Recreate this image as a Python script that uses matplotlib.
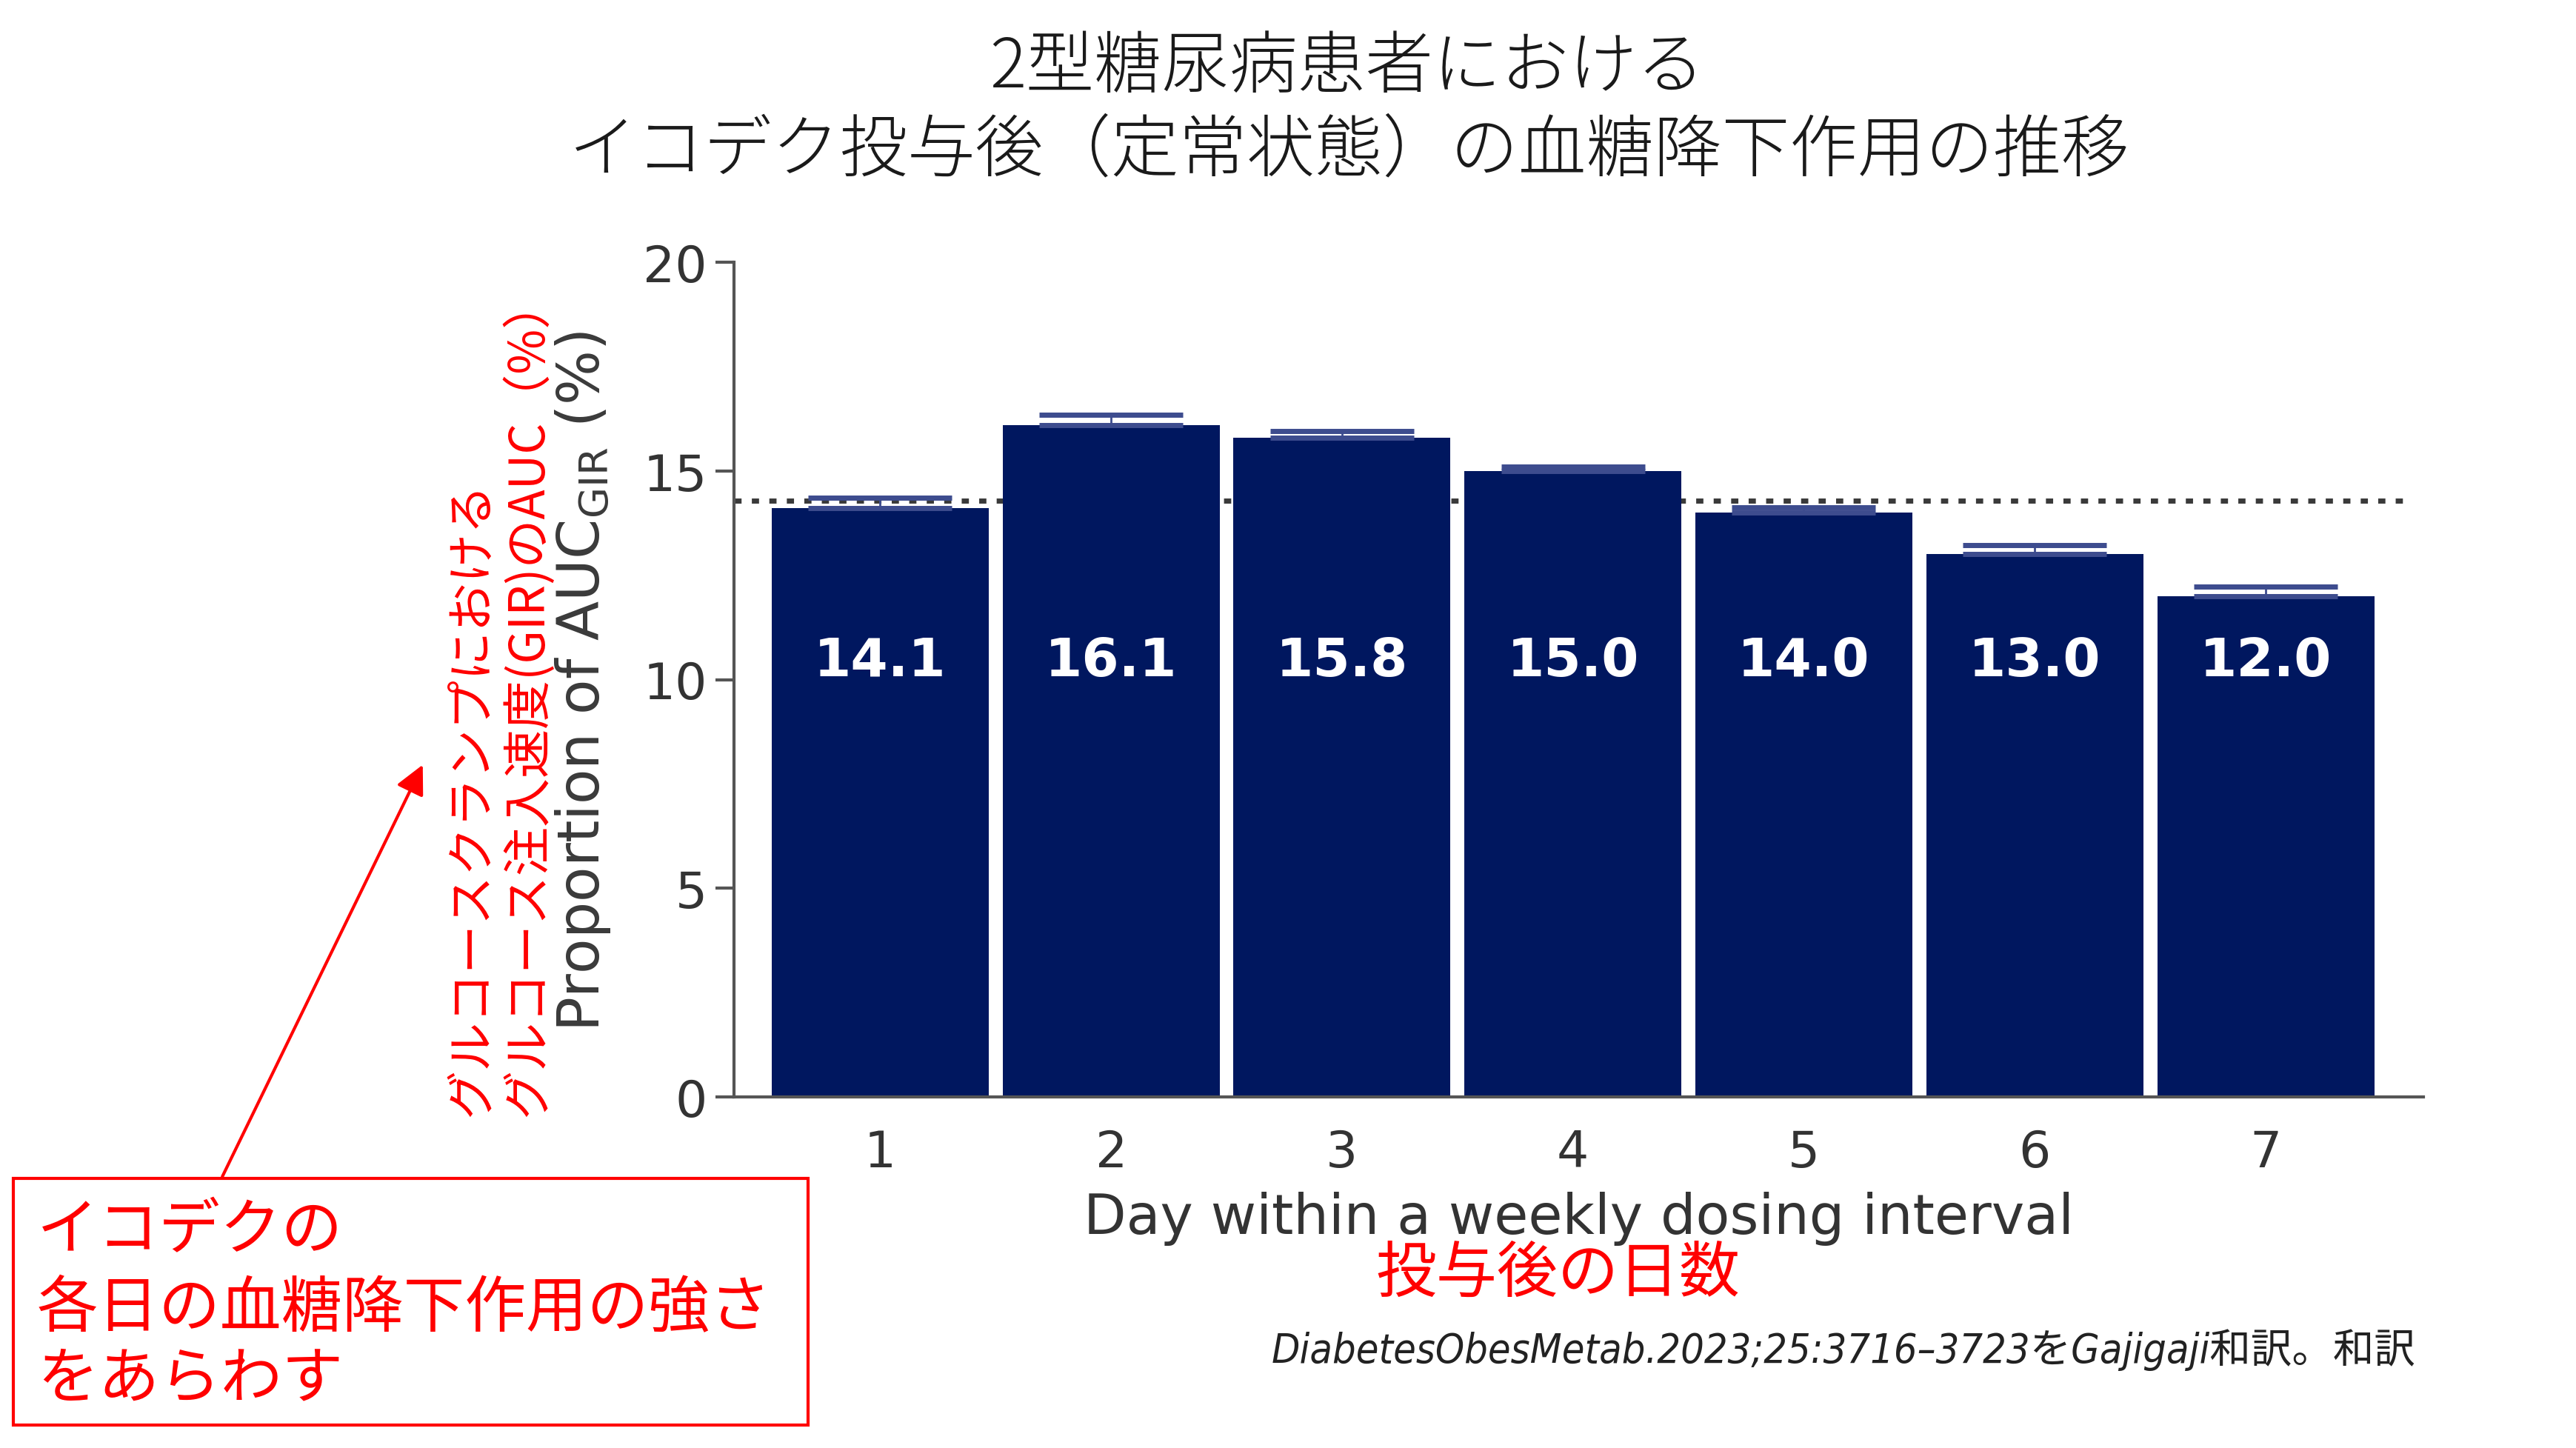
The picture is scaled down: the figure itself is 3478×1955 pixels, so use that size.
# Bar chart: proportion of AUC_GIR per day after weekly icodec dosing (Japanese annotations)

import matplotlib
matplotlib.use("Agg")
import matplotlib.pyplot as plt
from matplotlib.patches import Rectangle, FancyArrowPatch

plt.rcParams['font.family'] = ['DejaVu Sans', 'Noto Sans CJK JP']

# Data
days = [1, 2, 3, 4, 5, 6, 7]
day_labels = ['1', '2', '3', '4', '5', '6', '7']
auc_pct = [14.1, 16.1, 15.8, 15.0, 14.0, 13.0, 12.0]
auc_err = [0.25, 0.25, 0.15, 0.1, 0.12, 0.22, 0.22]
mean_pct = 100 / 7
y_ticks = [0, 5, 10, 15, 20]

title_lines = ['2型糖尿病患者における', 'イコデク投与後（定常状態）の血糖降下作用の推移']
jp_ylabel = ['グルコースクランプにおける', 'グルコース注入速度(GIR)のAUC（%）']
jp_xlabel = '投与後の日数'
box_lines = ['イコデクの', '各日の血糖降下作用の強さ', 'をあらわす']
citation = 'DiabetesObesMetab.2023;25:3716–3723をGajigaji和訳。和訳'

W, H = 3478, 1956
navy = '#00175F'
red = '#FF0000'
jp = ['Noto Sans CJK JP', 'DejaVu Sans']

fig = plt.figure(figsize=(W / 100, H / 100), dpi=100)
fig.patch.set_facecolor('white')


def fx(px):
    return px / W


def fy(py):
    return 1 - py / H


# axes placed by pixel box of the original
ax_l, ax_r, ax_t, ax_b = 991, 3272, 355, 1482
ax = fig.add_axes([fx(ax_l), fy(ax_b), fx(ax_r) - fx(ax_l), fy(ax_t) - fy(ax_b)])

ax.axhline(mean_pct, xmax=0.99, color='#3a3a3a', linestyle=(0, (1.4, 2.0)), lw=5, zorder=1)
ax.bar(days, auc_pct, width=0.94, color=navy, zorder=2)
ax.errorbar(days, auc_pct, yerr=[[0] * 7, auc_err], fmt='none', ecolor='#3d4c8e',
            elinewidth=2, capsize=70, capthick=5, zorder=3)

for d, v in zip(days, auc_pct):
    ax.text(d, 10.45, f'{v:.1f}', color='white', fontsize=52, fontweight='bold',
            ha='center', va='center', zorder=4)

ax.set_xlim(0.367, 7.683)
ax.set_ylim(0, 20)
ax.set_yticks(y_ticks)
ax.set_xticks(days)
ax.set_xticklabels(day_labels)
ax.tick_params(axis='y', length=18, width=3, color='#555555', labelsize=49,
               labelcolor='#333333', pad=8)
ax.tick_params(axis='x', length=0, labelsize=49, labelcolor='#333333', pad=30)
for s in ['top', 'right']:
    ax.spines[s].set_visible(False)
for s in ['left', 'bottom']:
    ax.spines[s].set_color('#555555')
    ax.spines[s].set_linewidth(3)

ax.set_xlabel('Day within a weekly dosing interval', fontsize=54, color='#333333',
              labelpad=14)
fig.text(fx(787), fy(920), 'Proportion of AUC$_{\\mathregular{GIR}}$ (%)', rotation=90,
         fontsize=56, color='#3a3a3a', ha='center', va='center')

# title
fig.text(fx(1819), fy(92), title_lines[0], family=jp, fontsize=66, fontweight='light',
         color='#1a1a1a', ha='center', va='center')
fig.text(fx(1822), fy(205), title_lines[1], family=jp, fontsize=66, fontweight='light',
         color='#1a1a1a', ha='center', va='center')

# red Japanese axis labels
fig.text(fx(637), fy(1508), jp_ylabel[0], family=jp, fontsize=47.5, color=red,
         rotation=90, ha='center', va='bottom')
fig.text(fx(712), fy(1508), jp_ylabel[1], family=jp, fontsize=47.5, color=red,
         rotation=90, ha='center', va='bottom')
fig.text(fx(2103), fy(1720), jp_xlabel, family=jp, fontsize=59, color=red,
         ha='center', va='center')

# annotation box with arrow
fig.patches.append(Rectangle((fx(18), fy(1925)), fx(1091) - fx(18), fy(1592) - fy(1925),
                             transform=fig.transFigure, fill=False, edgecolor=red, lw=3))
for i, line in enumerate(box_lines):
    fig.text(fx(50), fy([1663, 1768, 1863][i]), line, family=jp, fontsize=59.5, color=red,
             ha='left', va='center')
fig.patches.append(FancyArrowPatch((fx(299), fy(1592)), (fx(572), fy(1031)),
                                   transform=fig.transFigure, arrowstyle='-|>',
                                   mutation_scale=60, color=red, lw=3))

# citation
fig.text(fx(3262), fy(1823), citation, family=['DejaVu Sans', 'Noto Sans CJK JP'],
         style='italic', stretch='condensed', fontsize=40, color='#222222',
         ha='right', va='center')

fig.savefig('out.png', dpi=100, facecolor='white')
